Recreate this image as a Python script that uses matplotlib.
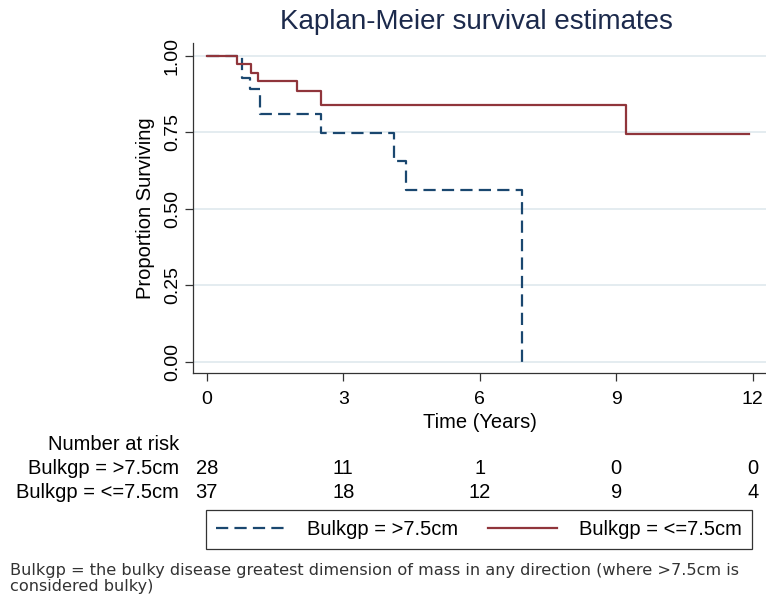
import numpy as np
import matplotlib
matplotlib.use("Agg")
import matplotlib.pyplot as plt
import matplotlib.transforms as mtransforms

# survival steps
t_bulky = [0, 0.77, 0.95, 1.17, 2.51, 4.12, 4.38, 6.92]
s_bulky = [1.0, 0.929, 0.893, 0.810, 0.749, 0.655, 0.562, 0.0]
t_small = [0, 0.66, 0.97, 1.12, 1.98, 2.51, 9.22, 11.92]
s_small = [1.0, 0.973, 0.946, 0.919, 0.884, 0.838, 0.745, 0.745]

risk_times = [0, 3, 6, 9, 12]
risk_bulky = [28, 11, 1, 0, 0]
risk_small = [37, 18, 12, 9, 4]

lab_bulky = "Bulkgp = >7.5cm"
lab_small = "Bulkgp = <=7.5cm"

navy = "#1a476f"
maroon = "#90353b"
grid_c = "#dfe9ee"

plt.rcParams['font.family'] = ['Liberation Sans', 'DejaVu Sans']

W, H = 766, 595
fig = plt.figure(figsize=(W / 100, H / 100), dpi=100)

def fx(px):
    return px / W

def fy(py):
    return 1 - py / H

ax = fig.add_axes([fx(193.3), fy(373.3), fx(766) - fx(193.3), fy(43.3) - fy(373.3)])

ax.set_xlim(-0.295, 12.29)
ax.set_ylim(-0.0386, 1.0416)

ax.step(t_bulky, s_bulky, where='post', color=navy, lw=1.6,
        dashes=(5.5, 2.8), label=lab_bulky)
ax.step(t_small, s_small, where='post', color=maroon, lw=1.6, label=lab_small)

ax.set_yticks([0, 0.25, 0.5, 0.75, 1.0])
ax.set_yticklabels(["0.00", "0.25", "0.50", "0.75", "1.00"], rotation=90, va='center')
ax.set_xticks(risk_times)
ax.tick_params(labelsize=14, length=6, width=0.9, color="#333333", pad=3)
ax.tick_params(axis='x', pad=7)
ax.grid(axis='y', color=grid_c, lw=1.2)
ax.set_axisbelow(True)
for s in ['top', 'right']:
    ax.spines[s].set_visible(False)
for s in ['left', 'bottom']:
    ax.spines[s].set_color("#333333")
    ax.spines[s].set_linewidth(0.9)

ax.set_xlabel("Time (Years)", fontsize=14.5, labelpad=3)
ax.set_ylabel("Proportion Surviving", fontsize=14.5, labelpad=6)
fig.text(fx(476), fy(22), "Kaplan-Meier survival estimates", fontsize=20,
         color="#1c2a4c", ha='center', va='center')

# number at risk table
blend = mtransforms.blended_transform_factory(ax.transData, fig.transFigure)
fig.text(fx(179), fy(445), "Number at risk", fontsize=14.5, ha='right', va='center')
fig.text(fx(179), fy(468), lab_bulky, fontsize=14.5, ha='right', va='center')
fig.text(fx(179), fy(492), lab_small, fontsize=14.5, ha='right', va='center')
for t, a, b in zip(risk_times, risk_bulky, risk_small):
    fig.text(t, fy(468), str(a), fontsize=14.5, ha='center', va='center', transform=blend)
    fig.text(t, fy(492), str(b), fontsize=14.5, ha='center', va='center', transform=blend)

h, l = ax.get_legend_handles_labels()
leg = fig.legend(h, l, loc='center', bbox_to_anchor=(fx(479), fy(529.5)), ncol=2,
                 fontsize=14.5, frameon=True, fancybox=False, edgecolor='black',
                 handlelength=3.4, handletextpad=1.1, columnspacing=1.5,
                 borderpad=0.5, borderaxespad=0)
leg.get_frame().set_linewidth(0.9)

fig.text(fx(10), fy(571), "Bulkgp = the bulky disease greatest dimension of mass in any direction (where >7.5cm is",
         fontsize=11.6, family='DejaVu Sans', color="#333333", va='center')
fig.text(fx(10), fy(586), "considered bulky)", fontsize=11.6, family='DejaVu Sans',
         color="#333333", va='center')

fig.savefig("out.png", dpi=100)
